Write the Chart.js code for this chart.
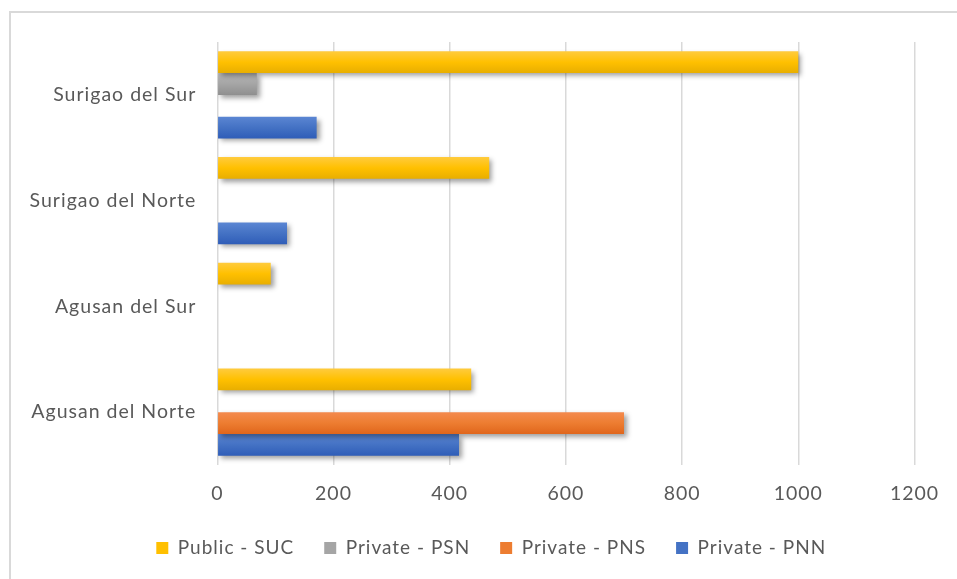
<!DOCTYPE html>
<html>
<head>
<meta charset="utf-8">
<script src="https://cdn.jsdelivr.net/npm/chart.js@4/dist/chart.umd.min.js"></script>
<style>
  html, body { margin: 0; padding: 0; background: #ffffff; }
  #wrap { position: relative; width: 957px; height: 579px; }
</style>
</head>
<body>
<div id="wrap"><canvas id="c" width="957" height="579"></canvas></div>
<script>
// ---- data ----
const categories = ['Surigao del Sur', 'Surigao del Norte', 'Agusan del Sur', 'Agusan del Norte'];
const seriesNames = ['Public - SUC', 'Private - PSN', 'Private - PNS', 'Private - PNN'];
const sucValues = [1000, 468, 92, 437];
const psnValues = [68, 0, 0, 0];
const pnsValues = [0, 0, 0, 700];
const pnnValues = [171, 120, 0, 416];
const xTicks = [0, 200, 400, 600, 800, 1000, 1200];

// ---- styles ----
const palettes = [
  ['#FFCB3D', '#FFC000', '#E8AE00'],   // yellow
  ['#B5B5B5', '#A5A5A5', '#8F8F8F'],   // gray
  ['#F48A4E', '#ED7D31', '#E0661C'],   // orange
  ['#5B86D3', '#4472C4', '#2F5DB8']    // blue
];
const CAT_PCT = 0.823;
const FONT = 'Lato, "Open Sans", sans-serif';
const FSIZE = 19.5;

function barFill(ctx) {
  const chart = ctx.chart;
  const pal = palettes[ctx.datasetIndex];
  const y = chart.scales && chart.scales.y;
  if (!chart.chartArea || !y || ctx.dataIndex === undefined) return pal[1];
  const band = (y.bottom - y.top) / categories.length;
  const size = band * CAT_PCT;
  const chunk = size / seriesNames.length;
  const center = y.getPixelForValue(ctx.dataIndex);
  const top = center - size / 2 + chunk * ctx.datasetIndex;
  const g = chart.ctx.createLinearGradient(0, top, 0, top + chunk);
  g.addColorStop(0, pal[0]);
  g.addColorStop(0.5, pal[1]);
  g.addColorStop(1, pal[2]);
  return g;
}

const spacingPlugin = {
  id: 'spacing',
  beforeLayout(chart) { chart.ctx.letterSpacing = '1px'; },
  afterLayout(chart) {
    if (chart.legend) { chart.legend.left += 34; chart.legend.right += 34; }
  },
  beforeDraw(chart) { chart.ctx.letterSpacing = '1px'; }
};

const framePlugin = {
  id: 'frame',
  beforeDraw(chart) {
    const c = chart.ctx;
    c.save();
    c.fillStyle = '#ffffff';
    c.fillRect(0, 0, chart.width, chart.height);
    c.strokeStyle = '#d9d9d9';
    c.lineWidth = 2;
    c.beginPath();
    c.moveTo(10, chart.height + 5);
    c.lineTo(10, 12);
    c.lineTo(chart.width + 5, 12);
    c.stroke();
    c.restore();
  }
};

const shadowPlugin = {
  id: 'barShadow',
  beforeDatasetsDraw(chart) {
    const c = chart.ctx;
    c.save();
    c.shadowColor = 'rgba(0,0,0,0.38)';
    c.shadowBlur = 5;
    c.shadowOffsetX = 3;
    c.shadowOffsetY = 3;
  },
  afterDatasetsDraw(chart) {
    chart.ctx.restore();
  }
};

const allValues = [sucValues, psnValues, pnsValues, pnnValues];
const datasets = seriesNames.map((name, i) => ({
  label: name,
  data: allValues[i],
  backgroundColor: barFill,
  borderWidth: 0,
  categoryPercentage: CAT_PCT,
  barPercentage: 1.0
}));

new Chart(document.getElementById('c'), {
  type: 'bar',
  data: { labels: categories, datasets },
  options: {
    indexAxis: 'y',
    responsive: false,
    animation: false,
    devicePixelRatio: 1,
    layout: { padding: { top: 42, right: 42.5, left: 0, bottom: 11.5 } },
    scales: {
      x: {
        min: 0, max: 1200,
        afterBuildTicks(scale) { scale.ticks = xTicks.map(v => ({ value: v })); },
        afterFit(scale) { scale.height = 43.5; },
        grid: { color: '#d9d9d9', lineWidth: 1.5, drawTicks: false },
        border: { display: false },
        ticks: {
          color: '#595959', font: { family: FONT, size: FSIZE }, padding: 17,
          callback(value) { return String(value); }
        }
      },
      y: {
        grid: { display: false, drawTicks: false },
        border: { display: false },
        ticks: { color: '#595959', font: { family: FONT, size: FSIZE }, padding: 21 },
        afterFit(scale) { scale.width = 217.3; }
      }
    },
    plugins: {
      legend: {
        position: 'bottom',
        labels: {
          color: '#595959',
          font: { family: FONT, size: 19 },
          boxWidth: 12,
          boxHeight: 12,
          padding: 30,
          generateLabels(chart) {
            return chart.data.datasets.map((ds, i) => ({
              text: ds.label,
              fillStyle: palettes[i][1],
              strokeStyle: palettes[i][1],
              lineWidth: 0,
              hidden: false,
              datasetIndex: i,
              fontColor: '#595959'
            }));
          }
        }
      },
      tooltip: { enabled: false }
    }
  },
  plugins: [spacingPlugin, framePlugin, shadowPlugin]
});
</script>
</body>
</html>
